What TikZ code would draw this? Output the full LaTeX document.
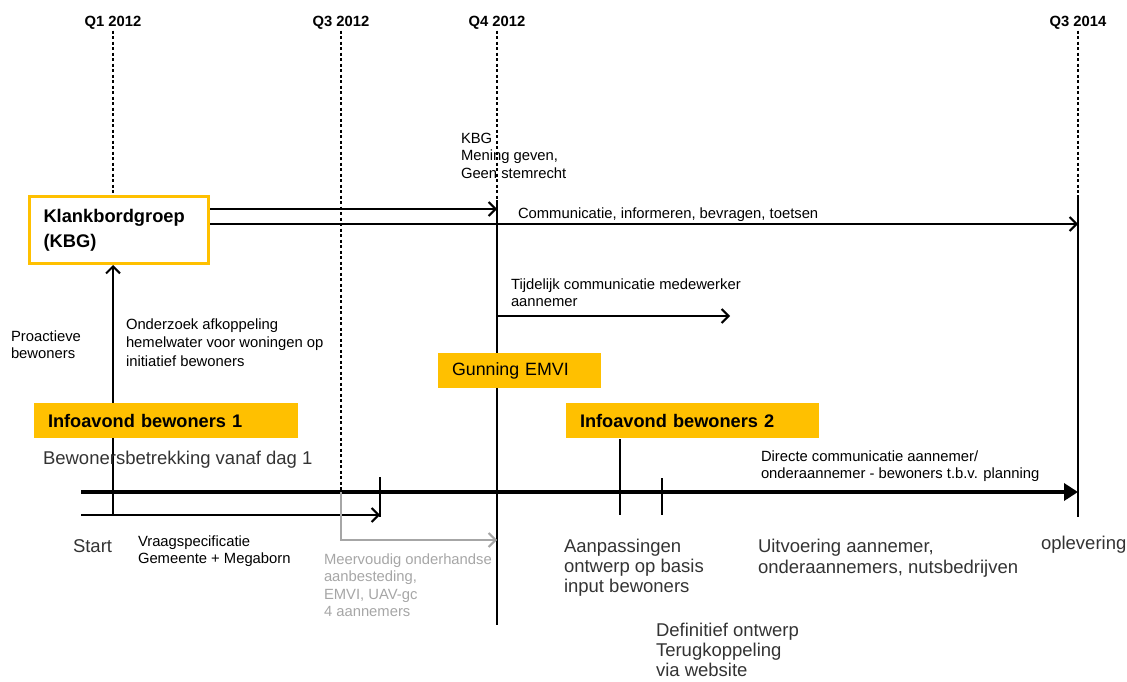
\documentclass[tikz,border=0pt]{standalone}
\usepackage{fontspec}
\setmainfont{Liberation Sans}
\usetikzlibrary{arrows.meta,positioning}
\definecolor{kbgorange}{RGB}{255,192,0}
\definecolor{fadegray}{RGB}{166,166,166}

\begin{document}
\begin{tikzpicture}
	[ x=1pt, y=-1pt, line width=2pt,
	  quarter/.style={font=\bfseries\fontsize{14.8}{16}\selectfont, inner sep=0pt},
	  timeline/.style={line width=1.3pt, dash pattern=on 3pt off 2.5pt},
	  flow/.style={-{Straight Barb[length=7pt,width=14pt,line width=2pt]}},
	  axis/.style={line width=4pt, -{Triangle[length=14pt,width=17pt]}},
	  tick/.style={line width=2.5pt},
	  note/.style={anchor=north west, inner sep=0pt, align=left, font=\fontsize{14.8}{17.5}\selectfont},
	  big/.style={note, text=black!80, font=\fontsize{18.5}{21}\selectfont},
	  event/.style={anchor=north west, fill=kbgorange, minimum height=35pt, inner xsep=14pt, inner ysep=0pt, align=left, font=\bfseries\fontsize{18.2}{21}\selectfont} ]

	\useasboundingbox (0,0) rectangle (1127,682);

	\node[quarter] (q1) at (113,23) {Q1 2012};
	\node[quarter] (q3) at (341,23) {Q3 2012};
	\node[quarter] (q4) at (497,23) {Q4 2012};
	\node[quarter] (q14) at (1078,23) {Q3 2014};

	\node[draw=kbgorange, line width=3pt, anchor=north west, minimum height=67pt, text width=151pt, inner xsep=14pt, align=left, font=\bfseries\fontsize{18.3}{25}\selectfont] (kbg) at (28,195) {Klankbordgroep\\(KBG)};

	\coordinate (t0) at (81,492);
	\coordinate (t1) at (1078,492);
	\coordinate (s0) at (81,515);
	\coordinate (s1) at (380,515);
	\coordinate (lineA) at (0,209);
	\coordinate (lineB) at (0,224);
	\coordinate (kbgq4) at (497,200);
	\coordinate (q4end) at (497,625);
	\coordinate (q14top) at (1078,195);
	\coordinate (q14end) at (1078,517);
	\coordinate (tempend) at (730,316);
	\coordinate (tender) at (497,540);
	\coordinate (adapt) at (620,515);
	\coordinate (final) at (662,515);

	% time lines
	\draw[timeline] (q1.south) -- (kbg.north -| q1);
	\draw[timeline] (q3.south) -- (t0 -| q3);
	\draw[timeline] (q4.south) -- (kbgq4);
	\draw[timeline] (q14.south) -- (q14top);
	\draw[tick] (kbgq4) -- (q4end);
	\draw[tick] (q14top) -- (q14end);

	% arrows
	\draw[flow] (kbg.east |- lineA) -- (q4 |- lineA);
	\draw[flow] (kbg.east |- lineB) -- (q14 |- lineB);
	\draw[flow] (s0 -| q1) -- (kbg.south -| q1);
	\draw[flow] (q4 |- tempend) -- (tempend);
	\draw[axis] (t0) -- (t1);
	\draw[flow] (s0) -- (s1);
	\draw[tick] (380,477) -- (380,517);
	\draw[flow, fadegray, line width=1.6pt] (t0 -| q3) |- (tender);

	% events
	\node[event, text width=236pt] (info1) at (33,402) {Infoavond bewoners 1};
	\node[event, text width=225pt] (info2) at (565,402) {Infoavond bewoners 2};
	\node[event, text width=135pt, font=\fontsize{17.8}{21}\selectfont] (gunning) at (437,352) {Gunning EMVI};

	\draw[tick] (info2.south -| adapt) -- (adapt);
	\draw[tick] (662,478) -- (final);

	% texts
	\node[note] (kbgnote) at (460,131.7) {KBG\\Mening geven,\\Geen stemrecht};
	\node[note] (comm) at (517,206.7) {Communicatie, informeren, bevragen, toetsen};
	\node[note] (temp) at (510,277.7) {Tijdelijk communicatie medewerker\\aannemer};
	\node[note] (proact) at (10,329.7) {Proactieve\\bewoners};
	\node[note, font=\fontsize{14.8}{18.5}\selectfont] (research) at (125,317.7) {Onderzoek afkoppeling\\hemelwater voor woningen op\\initiatief bewoners};
	\node[note] (direct) at (760,449.7) {Directe communicatie aannemer/\\onderaannemer - bewoners t.b.v. planning};
	\node[note] (spec) at (137,534.7) {Vraagspecificatie\\Gemeente + Megaborn};
	\node[note, text=fadegray] (tendertext) at (323,552.7) {Meervoudig onderhandse\\aanbesteding,\\EMVI, UAV-gc\\4 aannemers};
	\node[big] (involve) at (42,450.3) {Bewonersbetrekking vanaf dag 1};
	\node[big] (start) at (72,538.3) {Start};
	\node[big, font=\fontsize{18.5}{20}\selectfont] (adapttext) at (563,538.3) {Aanpassingen\\ontwerp op basis\\input bewoners};
	\node[big] (build) at (757,538.3) {Uitvoering aannemer,\\onderaannemers, nutsbedrijven};
	\node[big] (deliver) at (1040,535.3) {oplevering};
	\node[big, font=\fontsize{18.5}{20}\selectfont] (finaltext) at (655,622.5) {Definitief ontwerp\\Terugkoppeling\\via website};

\end{tikzpicture}
\end{document}
